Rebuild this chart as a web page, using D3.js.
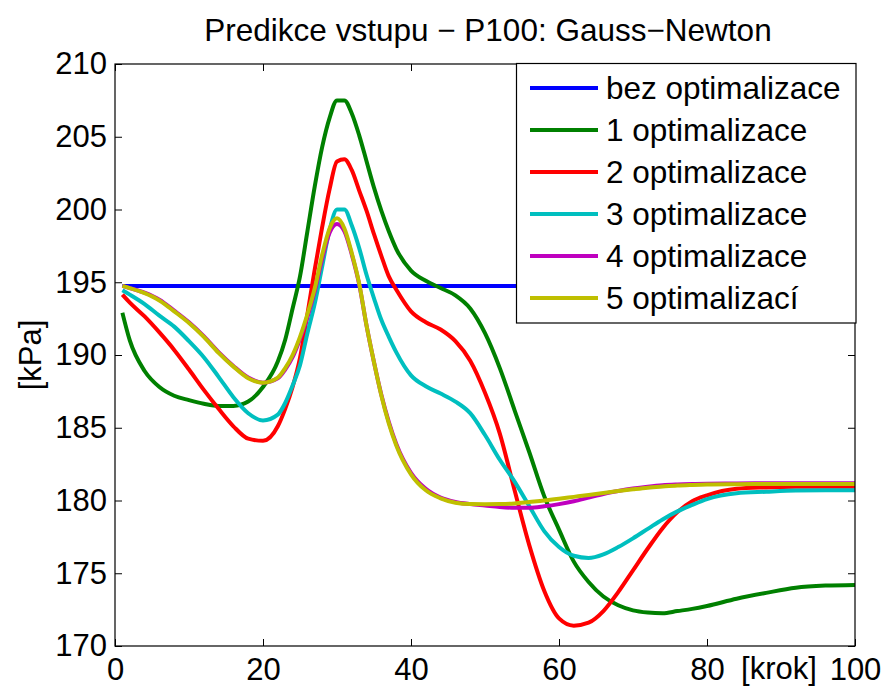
<!DOCTYPE html>
<html>
<head>
<meta charset="utf-8">
<script src="https://cdn.jsdelivr.net/npm/d3@7"></script>
<style>
  html, body { margin: 0; padding: 0; background: #fff; }
  svg { display: block; }
  text { font-family: "Liberation Sans", Arial, Helvetica, sans-serif; fill: #000; }
</style>
</head>
<body>
<svg id="chart" width="885" height="686"></svg>
<script>
// ---- data ----
const steps = [1,2,4,6,8,10,12,14,16,18,20,22,23,24,25,26,27,28,29,30,31,32,33,34,35,36,37,38,40,42,44,46,48,50,52,54,56,58,60,62,64,66,68,70,72,74,76,78,80,84,88,92,96,100];

const bezOpt = 194.75;

const opt1 = [192.9,191.0,188.9,187.8,187.2,186.9,186.65,186.5,186.5,186.8,187.8,189.55,191.05,193.2,195.4,198.5,201.6,204.3,206.3,207.5,207.5,206.6,205.1,203.3,201.5,199.9,198.5,197.3,195.8,195.1,194.6,194.1,193.2,191.5,189.1,186.2,183.3,180.3,178.0,175.8,174.4,173.4,172.8,172.45,172.3,172.25,172.4,172.55,172.75,173.25,173.65,174.0,174.15,174.2];

const opt2 = [194.15,193.6,192.65,191.55,190.35,189.0,187.6,186.3,185.1,184.25,184.1,185.1,186.3,187.8,189.8,192.8,195.9,198.8,201.4,203.3,203.45,202.7,201.3,199.9,198.3,196.8,195.4,194.5,193.0,192.25,191.75,190.95,189.6,187.4,184.6,180.7,176.9,173.8,171.9,171.4,171.6,172.4,173.7,175.2,176.7,178.1,179.2,179.95,180.35,180.8,180.9,180.95,180.95,180.95];

const opt3 = [194.45,194.15,193.5,192.7,191.95,190.95,189.85,188.5,187.1,186.0,185.5,185.9,186.7,187.9,189.3,191.5,193.55,196.1,198.6,200.0,200.0,198.9,197.35,195.5,193.9,192.4,191.25,190.2,188.6,187.85,187.35,186.8,186.0,184.5,182.8,181.3,179.6,177.9,176.8,176.2,176.05,176.3,176.8,177.4,178.05,178.7,179.25,179.7,180.1,180.5,180.6,180.68,180.7,180.7];

const opt4 = [194.75,194.6,194.28,193.8,193.05,192.25,191.3,190.2,189.25,188.45,188.1,188.4,189.0,189.85,191.1,192.6,194.4,196.6,198.4,199.0,198.5,196.9,194.85,192.0,189.5,187.25,185.4,183.9,181.9,180.8,180.2,179.9,179.75,179.65,179.55,179.5,179.5,179.6,179.75,179.95,180.2,180.45,180.65,180.82,180.95,181.05,181.1,181.13,181.15,181.17,181.18,181.18,181.18,181.18];

const opt5 = [194.75,194.6,194.25,193.75,193.0,192.2,191.25,190.15,189.2,188.4,188.1,188.45,189.1,190.0,191.25,192.8,194.6,196.9,198.7,199.4,198.7,197.0,194.9,192.0,189.5,187.2,185.3,183.8,181.8,180.7,180.15,179.85,179.76,179.75,179.76,179.8,179.9,180.0,180.12,180.25,180.38,180.52,180.65,180.77,180.88,180.96,181.03,181.07,181.1,181.12,181.13,181.13,181.13,181.13];

const seriesNames = ["bez optimalizace","1 optimalizace","2 optimalizace","3 optimalizace","4 optimalizace","5 optimalizací"];
const seriesColors = ["#0000ff","#008000","#ff0000","#00bfbf","#bf00bf","#bfbf00"];

const xTicks = [0,20,40,60,80,100];
const yTicks = [170,175,180,185,190,195,200,205,210];

const titleText = "Predikce vstupu \u2212 P100: Gauss\u2212Newton";
const xLabelText = "[krok]";
const yLabelText = "[kPa]";

// ---- layout ----
const L = 115, R = 855, T = 64, B = 646;
const svg = d3.select("#chart");
const x = d3.scaleLinear().domain([0,100]).range([L,R]);
const y = d3.scaleLinear().domain([170,210]).range([B,T]);

const seriesData = [
  steps.map(s => [s, bezOpt]),
  steps.map((s,i) => [s, opt1[i]]),
  steps.map((s,i) => [s, opt2[i]]),
  steps.map((s,i) => [s, opt3[i]]),
  steps.map((s,i) => [s, opt4[i]]),
  steps.map((s,i) => [s, opt5[i]])
];

svg.append("clipPath").attr("id","plotclip")
  .append("rect").attr("x",L).attr("y",T).attr("width",R-L).attr("height",B-T);

const line = d3.line().x(d => x(d[0])).y(d => y(d[1])).curve(d3.curveMonotoneX);

const lines = svg.append("g").attr("clip-path","url(#plotclip)");
seriesData.forEach((d,i) => {
  lines.append("path").datum(d)
    .attr("d", line)
    .attr("fill","none")
    .attr("stroke", seriesColors[i])
    .attr("stroke-width", 4)
    .attr("stroke-linejoin","round");
});

// axes (MATLAB-style inward ticks on all sides)
const tickLen = 7;
const fontSize = 31;
const gB = svg.append("g").attr("transform",`translate(0,${B})`)
  .call(d3.axisBottom(x).tickValues(xTicks).tickSize(-tickLen).tickSizeOuter(0).tickPadding(12));
const gT = svg.append("g").attr("transform",`translate(0,${T})`)
  .call(d3.axisTop(x).tickValues(xTicks).tickSize(-tickLen).tickSizeOuter(0).tickFormat(""));
const gL = svg.append("g").attr("transform",`translate(${L},0)`)
  .call(d3.axisLeft(y).tickValues(yTicks).tickSize(-tickLen).tickSizeOuter(0).tickPadding(8));
const gR = svg.append("g").attr("transform",`translate(${R},0)`)
  .call(d3.axisRight(y).tickValues(yTicks).tickSize(-tickLen).tickSizeOuter(0).tickFormat(""));

[gB,gT,gL,gR].forEach(g => {
  g.select(".domain").remove();
  g.selectAll(".tick line").attr("stroke","#000").attr("stroke-width",1);
  g.selectAll("text").attr("font-size", fontSize).attr("font-family",'"Liberation Sans", Arial, sans-serif').attr("fill","#000");
});
gB.selectAll("text").attr("dy","0.71em");

svg.append("rect").attr("x",L).attr("y",T).attr("width",R-L).attr("height",B-T)
  .attr("fill","none").attr("stroke","#000").attr("stroke-width",1.2);

// labels
svg.append("text").attr("x", 488).attr("y", 41).attr("text-anchor","middle")
  .attr("font-size", 31.5).text(titleText);
svg.append("text").attr("x", 779).attr("y", 679).attr("text-anchor","middle")
  .attr("font-size", fontSize).text(xLabelText);
svg.append("text").attr("transform",`translate(41,${(T+B)/2}) rotate(-90)`)
  .attr("text-anchor","middle").attr("font-size", fontSize).text(yLabelText);

// legend
const lg = svg.append("g");
lg.append("rect").attr("x",516.5).attr("y",63.5).attr("width",339.5).attr("height",259.5)
  .attr("fill","#fff").attr("stroke","#000").attr("stroke-width",1.2);
seriesNames.forEach((name,i) => {
  const cy = 88 + i*42;
  lg.append("line").attr("x1",530).attr("x2",598).attr("y1",cy).attr("y2",cy)
    .attr("stroke", seriesColors[i]).attr("stroke-width",4);
  lg.append("text").attr("x",606).attr("y",cy).attr("dy","0.36em")
    .attr("font-size", 31.5).text(name);
});
</script>
</body>
</html>
